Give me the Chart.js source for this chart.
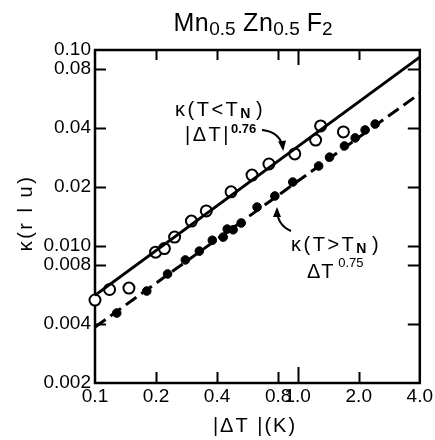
<!DOCTYPE html>
<html>
<head>
<meta charset="utf-8">
<script src="https://cdn.jsdelivr.net/npm/chart.js@4.4.1/dist/chart.umd.min.js"></script>
<style>
  html, body { margin: 0; padding: 0; background: #fff; }
  #wrap { width: 435px; height: 440px; }
</style>
</head>
<body>
<div id="wrap"><canvas id="chart" width="435" height="440"></canvas></div>
<script>
// tick values + labels
const xTicks = [0.1, 0.2, 0.4, 0.8, 1.0, 2.0, 4.0];
const xTickLabels = ['0.1', '0.2', '0.4', '0.8', '1.0', '2.0', '4.0'];
const yTicks = [0.002, 0.004, 0.008, 0.010, 0.02, 0.04, 0.08, 0.10];
const yTickLabels = ['0.002', '0.004', '0.008', '0.010', '0.02', '0.04', '0.08', '0.10'];

// T < TN (open circles)
const belowX = [0.100, 0.118, 0.147, 0.199, 0.220, 0.247, 0.299, 0.354, 0.469, 0.595, 0.721, 0.967, 1.225, 1.297, 1.680];
const belowY = [0.0053, 0.0060, 0.0061, 0.0093, 0.0097, 0.0111, 0.0134, 0.0151, 0.0189, 0.0230, 0.0262, 0.0295, 0.0347, 0.0410, 0.0382];

// T > TN (filled circles)
const aboveX = [0.128, 0.180, 0.228, 0.279, 0.327, 0.379, 0.429, 0.449, 0.480, 0.526, 0.630, 0.771, 0.945, 1.268, 1.435, 1.70, 1.92, 2.15, 2.41];
const aboveY = [0.00455, 0.00589, 0.00720, 0.00849, 0.00942, 0.0107, 0.0111, 0.0122, 0.0121, 0.0131, 0.0158, 0.0180, 0.0212, 0.0256, 0.0284, 0.0324, 0.0356, 0.0391, 0.0419];

// fitted power-law lines, end points
const fitBelowX = [0.1, 4.0];
const fitBelowY = [0.0056, 0.092];
const fitAboveX = [0.1, 4.0];
const fitAboveY = [0.00386, 0.060];

const FONT = '"Liberation Sans", Arial, sans-serif';
const pts = (xs, ys) => xs.map((x, i) => ({ x, y: ys[i] }));

// draw a run of text pieces: [text, size, dy, spacing, bold]
function drawRuns(ctx, runs, x, y, align) {
  const setFont = r => {
    ctx.font = `${r[4] ? 'bold ' : ''}${r[1]}px ${FONT}`;
    ctx.letterSpacing = (r[3] || 0) + 'px';
  };
  let total = 0;
  runs.forEach(r => { setFont(r); total += ctx.measureText(r[0]).width; });
  let cx = align === 'center' ? x - total / 2 : x;
  ctx.textAlign = 'left';
  ctx.textBaseline = 'alphabetic';
  runs.forEach(r => {
    setFont(r);
    ctx.fillText(r[0], cx, y + r[2]);
    cx += ctx.measureText(r[0]).width;
  });
  ctx.letterSpacing = '0px';
}

function curvedArrow(ctx, x0, y0, cx, cy, x1, y1) {
  ctx.beginPath();
  ctx.moveTo(x0, y0);
  ctx.quadraticCurveTo(cx, cy, x1, y1);
  ctx.stroke();
  const ang = Math.atan2(y1 - cy, x1 - cx);
  ctx.beginPath();
  ctx.moveTo(x1 + 2 * Math.cos(ang), y1 + 2 * Math.sin(ang));
  ctx.lineTo(x1 - 8 * Math.cos(ang) + 4 * Math.sin(ang), y1 - 8 * Math.sin(ang) - 4 * Math.cos(ang));
  ctx.lineTo(x1 - 8 * Math.cos(ang) - 4 * Math.sin(ang), y1 - 8 * Math.sin(ang) + 4 * Math.cos(ang));
  ctx.closePath();
  ctx.fill();
}

const frame = {
  id: 'frame',
  beforeDatasetsDraw(chart) {
    const { ctx, chartArea: a, scales: { x, y } } = chart;
    ctx.save();
    ctx.strokeStyle = '#000';
    ctx.lineWidth = 2.5;
    ctx.strokeRect(a.left, a.top, a.right - a.left, a.bottom - a.top);
    ctx.lineWidth = 2;
    ctx.beginPath();
    xTicks.slice(1, -1).forEach(v => {
      const px = Math.round(x.getPixelForValue(v)) + 0.5;
      const len = v === 1 ? 16 : 11;
      ctx.moveTo(px, a.bottom); ctx.lineTo(px, a.bottom - len);
      ctx.moveTo(px, a.top); ctx.lineTo(px, a.top + len - 1);
    });
    yTicks.slice(1, -1).forEach(v => {
      const py = Math.round(y.getPixelForValue(v)) + 0.5;
      ctx.moveTo(a.left, py); ctx.lineTo(a.left + 11, py);
      ctx.moveTo(a.right, py); ctx.lineTo(a.right - 12, py);
    });
    ctx.stroke();
    ctx.restore();
  },
  afterDraw(chart) {
    const { ctx } = chart;
    ctx.save();
    ctx.fillStyle = '#000';
    ctx.strokeStyle = '#000';
    // title
    drawRuns(ctx, [['Mn', 25, 0, 0.5], ['0.5', 19, 4], [' Zn', 25, 0, 0.5], ['0.5', 19, 4], [' F', 25, 0], ['2', 19, 4]], 253, 31, 'center');
    // axis titles
    drawRuns(ctx, [['|ΔT |(K)', 20, 0, 2]], 255, 432, 'center');
    ctx.save();
    ctx.translate(32, 213);
    ctx.rotate(-Math.PI / 2);
    drawRuns(ctx, [['κ(r l u)', 20, 0, 2.5]], 0, 0, 'center');
    ctx.restore();
    // annotations
    drawRuns(ctx, [['κ(T<T', 20, 0, 2.5], ['N', 14, 2, 0, true], [' )', 20, 0]], 175, 116, 'left');
    drawRuns(ctx, [['|ΔT|', 20, 0, 2.5], ['0.76', 13, -8, 0, true]], 185, 141, 'left');
    drawRuns(ctx, [['κ(T>T', 20, 0, 2.5], ['N', 14, 2, 0, true], [' )', 20, 0]], 291, 251, 'left');
    drawRuns(ctx, [['ΔT', 20, 0, 1], [' 0.75', 13, -11]], 307, 278, 'left');
    ctx.lineWidth = 2;
    curvedArrow(ctx, 262, 130, 281, 132, 283, 149);
    curvedArrow(ctx, 291, 231, 277, 225, 277, 209);
    ctx.restore();
  }
};

new Chart(document.getElementById('chart'), {
  data: {
    datasets: [
      {
        type: 'line', data: pts(fitBelowX, fitBelowY),
        borderColor: '#000', borderWidth: 3, pointRadius: 0, fill: false
      },
      {
        type: 'line', data: pts(fitAboveX, fitAboveY),
        borderColor: '#000', borderWidth: 3, borderDash: [13, 6], pointRadius: 0, fill: false
      },
      {
        type: 'scatter', data: pts(belowX, belowY), clip: false,
        pointRadius: 5.5, pointBackgroundColor: '#fff', pointBorderColor: '#000', pointBorderWidth: 2
      },
      {
        type: 'scatter', data: pts(aboveX, aboveY), clip: false,
        pointRadius: 4.3, pointBackgroundColor: '#000', pointBorderColor: '#000', pointBorderWidth: 1
      }
    ]
  },
  options: {
    responsive: false,
    devicePixelRatio: 1,
    animation: false,
    layout: { padding: { top: 50, right: 13, left: 0, bottom: 0 } },
    plugins: { legend: { display: false }, tooltip: { enabled: false } },
    scales: {
      x: {
        type: 'logarithmic', position: 'bottom', min: 0.1, max: 4,
        afterBuildTicks: s => { s.ticks = xTicks.map(v => ({ value: v })); },
        afterFit: s => { s.height = 57; },
        ticks: {
          callback: (v, i) => xTickLabels[i],
          autoSkip: false, maxRotation: 0, padding: 2,
          color: '#000', font: { family: FONT, size: 19 }
        },
        grid: { display: false, drawTicks: false },
        border: { display: false }
      },
      y: {
        type: 'logarithmic', position: 'left', min: 0.002, max: 0.1,
        afterBuildTicks: s => { s.ticks = yTicks.map(v => ({ value: v })); },
        afterFit: s => { s.width = 95; },
        ticks: {
          callback: (v, i) => yTickLabels[i],
          autoSkip: false, padding: 4,
          color: '#000', font: { family: FONT, size: 19 }
        },
        grid: { display: false, drawTicks: false },
        border: { display: false }
      }
    }
  },
  plugins: [frame]
});
</script>
</body>
</html>
